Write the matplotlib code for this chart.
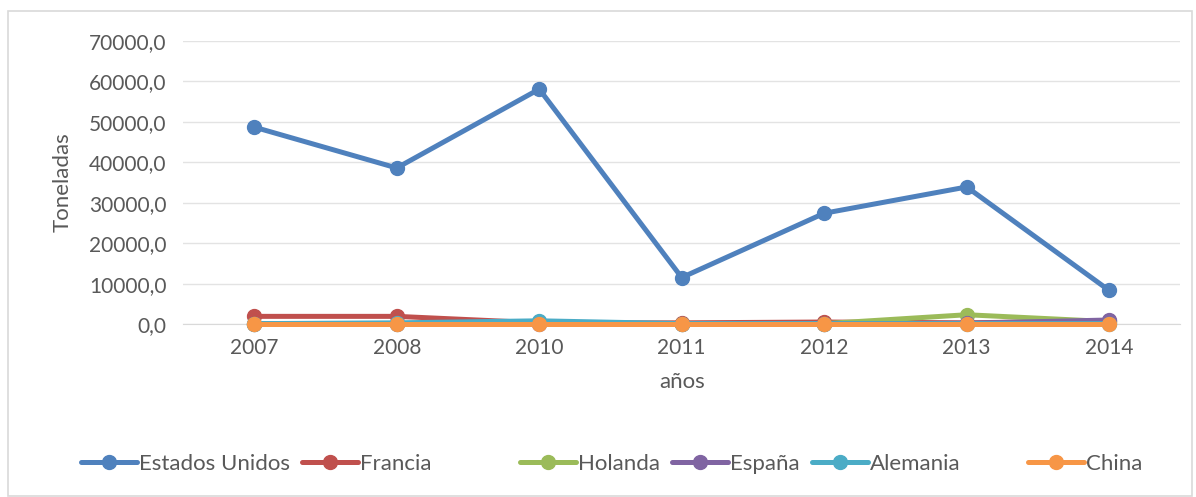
import matplotlib.pyplot as plt
from matplotlib.patches import Rectangle

# data
years = ['2007', '2008', '2010', '2011', '2012', '2013', '2014']
estados_unidos = [48700, 38600, 58100, 11500, 27400, 33900, 8300]
francia = [1900, 1900, 300, 300, 500, 300, 800]
holanda = [100, 100, 200, 100, 100, 2300, 600]
espana = [50, 50, 50, 50, 50, 200, 1000]
alemania = [100, 300, 800, 100, 100, 100, 100]
china = [0, 0, 0, 0, 0, 0, 0]

series = [
    ('Estados Unidos', estados_unidos, '#4F81BD'),
    ('Francia', francia, '#C0504D'),
    ('Holanda', holanda, '#9BBB59'),
    ('España', espana, '#8064A2'),
    ('Alemania', alemania, '#4BACC6'),
    ('China', china, '#F79646'),
]

plt.rcParams['font.family'] = ['Lato', 'DejaVu Sans']
txt = '#595959'

fig = plt.figure(figsize=(11.96, 4.97), dpi=100)
ax = fig.add_axes([0.153, 0.348, 0.834, 0.5695])

x = list(range(len(years)))
lines = []
for name, vals, col in series:
    ln, = ax.plot(x, vals, color=col, lw=3.6, marker='o', ms=10, label=name,
                  solid_capstyle='round', clip_on=False)
    lines.append(ln)

ax.set_xlim(-0.5, len(years) - 0.5)
ax.set_ylim(0, 70000)
ax.set_yticks(range(0, 70001, 10000))
ax.set_yticklabels([f'{v},0' for v in range(0, 70001, 10000)])
ax.set_xticks(x)
ax.set_xticklabels(years)
ax.tick_params(length=0, labelsize=15, colors=txt, pad=12)
ax.tick_params(axis='x', pad=10)
ax.grid(axis='y', color='#E3E3E3', lw=1)
ax.set_axisbelow(True)
for s in ['top', 'right', 'left']:
    ax.spines[s].set_visible(False)
ax.spines['bottom'].set_color('#D9D9D9')
ax.spines['bottom'].set_zorder(0.5)

ax.set_xlabel('años', fontsize=16, color=txt, labelpad=10)
ax.set_ylabel('Toneladas', fontsize=16, color=txt, labelpad=12)

# legend entries spaced like the original (Excel leaves uneven gaps)
leg_x = [81, 302, 520, 672, 812, 1028]
for ln, lx in zip(lines, leg_x):
    lg = fig.legend([ln], [ln.get_label()], loc='center left',
                    bbox_to_anchor=(lx / 1196, 0.066), frameon=False,
                    fontsize=16, handlelength=2.5, handletextpad=0.1,
                    borderpad=0, borderaxespad=0, labelcolor=txt)

fig.patches.append(Rectangle((0.007, 0.002), 0.99, 0.976, transform=fig.transFigure,
                             fill=False, edgecolor='#D9D9D9', lw=1.2))

fig.savefig('out.png', dpi=100)
